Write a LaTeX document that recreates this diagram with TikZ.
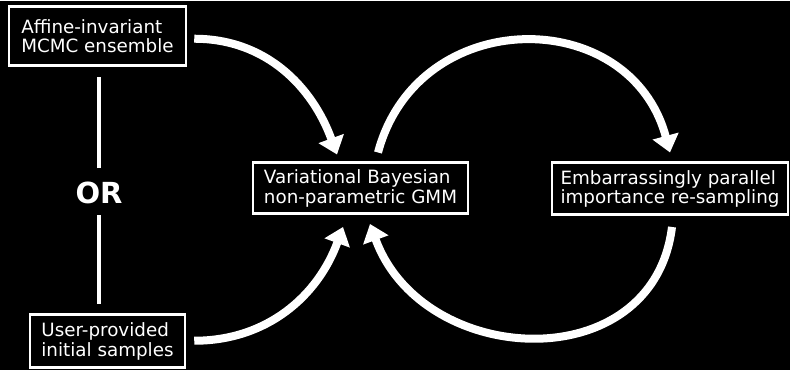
\documentclass[tikz,border=0pt]{standalone}
\usepackage{fontspec}
\setmainfont{DejaVu Sans}
\usetikzlibrary{arrows.meta}

\begin{document}
\begin{tikzpicture}[x=1pt, y=1pt,
    stage/.style={draw=white, line width=2.5pt, text=white, align=left, inner sep=0pt,
        font=\fontsize{18.3}{19.5}\selectfont},
    flow/.style={white, line width=8pt, -{Triangle[width=26pt, length=17pt]}},
    orbar/.style={white, line width=4.5pt}]
    \fill[black] (0, 0) rectangle (790, 369);
    \node[stage, minimum width=177pt, minimum height=59pt] (mcmc) at (97.5, 333.5) {Affine-invariant\\MCMC ensemble};
    \node[stage, minimum width=155pt, minimum height=53pt] (user) at (107.5, 28.5) {User-provided\\initial samples};
    \node[stage, minimum width=215pt, minimum height=51pt] (vbgmm) at (360.5, 181.5) {Variational Bayesian\\non-parametric GMM};
    \node[stage, minimum width=236pt, minimum height=52pt] (resamp) at (670, 181) {Embarrassingly parallel\\importance re-sampling};
    \node[text=white, inner sep=0pt, font=\fontsize{29}{30}\selectfont\bfseries] (or) at (99, 176.5) {OR};
    \draw[orbar] ([yshift=14pt]or.north) -- ([yshift=-10pt]or.north |- mcmc.south);
    \draw[orbar] ([yshift=-11pt]or.south) -- ([yshift=9pt]or.south |- user.north);
    \draw[flow] ([xshift=7pt, yshift=-2.5pt]mcmc.east) to[out=0, in=110] ([xshift=-23.5pt, yshift=7pt]vbgmm.north);
    \draw[flow] ([xshift=8pt, yshift=0.5pt]user.east) to[out=0, in=-110] ([xshift=-17.5pt, yshift=-12pt]vbgmm.south);
    \draw[flow] ([xshift=17.5pt, yshift=9pt]vbgmm.north) to[out=75, in=105, looseness=1.35] ([yshift=9pt]resamp.north);
    \draw[flow] ([xshift=2pt, yshift=-11pt]resamp.south) to[out=-97, in=-70, looseness=1.3] ([xshift=9.5pt, yshift=-9pt]vbgmm.south);
\end{tikzpicture}
\end{document}
